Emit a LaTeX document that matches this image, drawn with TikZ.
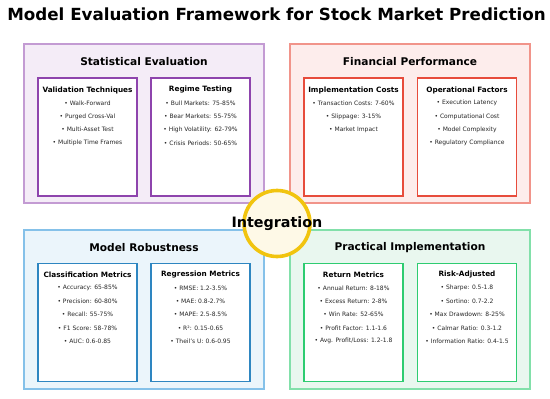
\documentclass[tikz,border=0pt]{standalone}
\usepackage{fontspec}
\setmainfont{DejaVu Sans}
\usepackage{xcolor}
\usepackage{tikz}
\usetikzlibrary{positioning}
\definecolor{statfill}{HTML}{F4ECF7}
\definecolor{statline}{HTML}{C39BD3}
\definecolor{statbox}{HTML}{8E44AD}
\definecolor{finfill}{HTML}{FDEDEC}
\definecolor{finline}{HTML}{F1948A}
\definecolor{finbox}{HTML}{E74C3C}
\definecolor{robfill}{HTML}{EBF5FB}
\definecolor{robline}{HTML}{85C1E9}
\definecolor{robbox}{HTML}{2E86C1}
\definecolor{pracfill}{HTML}{E9F7EF}
\definecolor{pracline}{HTML}{82E0AA}
\definecolor{pracbox}{HTML}{2ECC71}
\definecolor{integfill}{HTML}{FEF9E7}
\definecolor{integline}{HTML}{F1C40F}

\tikzset{
  panel/.style={draw, line width=2.6pt, minimum width=240pt, minimum height=159pt, inner sep=0pt},
  inbox/.style={draw, fill=white, line width=1.2pt, minimum width=99pt, minimum height=118pt, inner sep=0pt},
  ptitle/.style={font=\fontsize{10.6}{12}\selectfont\bfseries},
  btitle/.style={font=\fontsize{7.3}{8}\selectfont\bfseries},
  item/.style={font=\fontsize{6}{7}\selectfont, text=black!85, inner sep=0pt},
}

\begin{document}
\begin{tikzpicture}[x=1pt, y=-1pt]
    \useasboundingbox (0,0) rectangle (550,399);
    \node[font=\fontsize{16.7}{19}\selectfont\bfseries] (title) at (276.5,14) {Model Evaluation Framework for Stock Market Prediction};

    % panels
    \node[panel, draw=statline, fill=statfill] (stat) at (144,123.5) {};
    \node[panel, draw=finline, fill=finfill] (fin) at (410,123.5) {};
    \node[panel, draw=robline, fill=robfill] (rob) at (144,309.5) {};
    \node[panel, draw=pracline, fill=pracfill] (prac) at (410,309.5) {};

    \node[ptitle] (stattitle) at (144,61.5) {Statistical Evaluation};
    \node[ptitle] (fintitle) at (410,61.5) {Financial Performance};
    \node[ptitle] (robtitle) at (144,247.5) {Model Robustness};
    \node[ptitle] (practitle) at (410,247.5) {Practical Implementation};

    % inner boxes
    \node[inbox, draw=statbox] (valid) at (87.5,137) {};
    \node[inbox, draw=statbox] (regime) at (200.5,137) {};
    \node[inbox, draw=finbox] (costs) at (353.5,137) {};
    \node[inbox, draw=finbox] (oper) at (467,137) {};
    \node[inbox, draw=robbox] (classif) at (87.5,322.5) {};
    \node[inbox, draw=robbox] (regr) at (200.5,322.5) {};
    \node[inbox, draw=pracbox] (ret) at (353.5,322.5) {};
    \node[inbox, draw=pracbox] (risk) at (467,322.5) {};

    \node[btitle] (validtitle) at (87.5,90) {Validation Techniques};
    \node[btitle] (regimetitle) at (200.5,90) {Regime Testing};
    \node[btitle] (coststitle) at (353.5,90) {Implementation Costs};
    \node[btitle] (opertitle) at (467,90) {Operational Factors};
    \node[btitle] (classiftitle) at (87.5,275) {Classification Metrics};
    \node[btitle] (regrtitle) at (200.5,275) {Regression Metrics};
    \node[btitle] (rettitle) at (353.5,275) {Return Metrics};
    \node[btitle] (risktitle) at (467,275) {Risk-Adjusted};

    % bullet items
    \foreach \t [count=\i] in {Walk-Forward, Purged Cross-Val, Multi-Asset Test, Multiple Time Frames}
        \node[item] (valid-\i) at (87.5,89.8+13.3*\i) {• \t};
    \foreach \t [count=\i] in {Bull Markets: 75-85\%, Bear Markets: 55-75\%, High Volatility: 62-79\%, Crisis Periods: 50-65\%}
        \node[item] (regime-\i) at (200.5,89.8+13.3*\i) {• \t};
    \foreach \t [count=\i] in {Transaction Costs: 7-60\%, Slippage: 3-15\%, Market Impact}
        \node[item] (costs-\i) at (353.5,89.8+13.3*\i) {• \t};
    \foreach \t [count=\i] in {Execution Latency, Computational Cost, Model Complexity, Regulatory Compliance}
        \node[item] (oper-\i) at (467,89.8+13.3*\i) {• \t};
    \foreach \t [count=\i] in {Accuracy: 65-85\%, Precision: 60-80\%, Recall: 55-75\%, F1 Score: 58-78\%, AUC: 0.6-0.85}
        \node[item] (classif-\i) at (87.5,274.8+13.3*\i) {• \t};
    \foreach \t [count=\i] in {RMSE: 1.2-3.5\%, MAE: 0.8-2.7\%, MAPE: 2.5-8.5\%, R²: 0.15-0.65, Theil's U: 0.6-0.95}
        \node[item] (regr-\i) at (200.5,274.8+13.3*\i) {• \t};
    \foreach \t [count=\i] in {Annual Return: 8-18\%, Excess Return: 2-8\%, Win Rate: 52-65\%, Profit Factor: 1.1-1.6, Avg. Profit/Loss: 1.2-1.8}
        \node[item] (ret-\i) at (353.5,274.8+13.3*\i) {• \t};
    \foreach \t [count=\i] in {Sharpe: 0.5-1.8, Sortino: 0.7-2.2, Max Drawdown: 8-25\%, Calmar Ratio: 0.3-1.2, Information Ratio: 0.4-1.5}
        \node[item] (risk-\i) at (467,274.8+13.3*\i) {• \t};

    % centre
    \node[circle, draw=integline, fill=integfill, line width=3.6pt, minimum size=66pt, inner sep=0pt] (integ) at (277,223.5) {};
    \node[font=\fontsize{14.3}{16}\selectfont\bfseries] (integtext) at (integ.center) {Integration};
\end{tikzpicture}
\end{document}
